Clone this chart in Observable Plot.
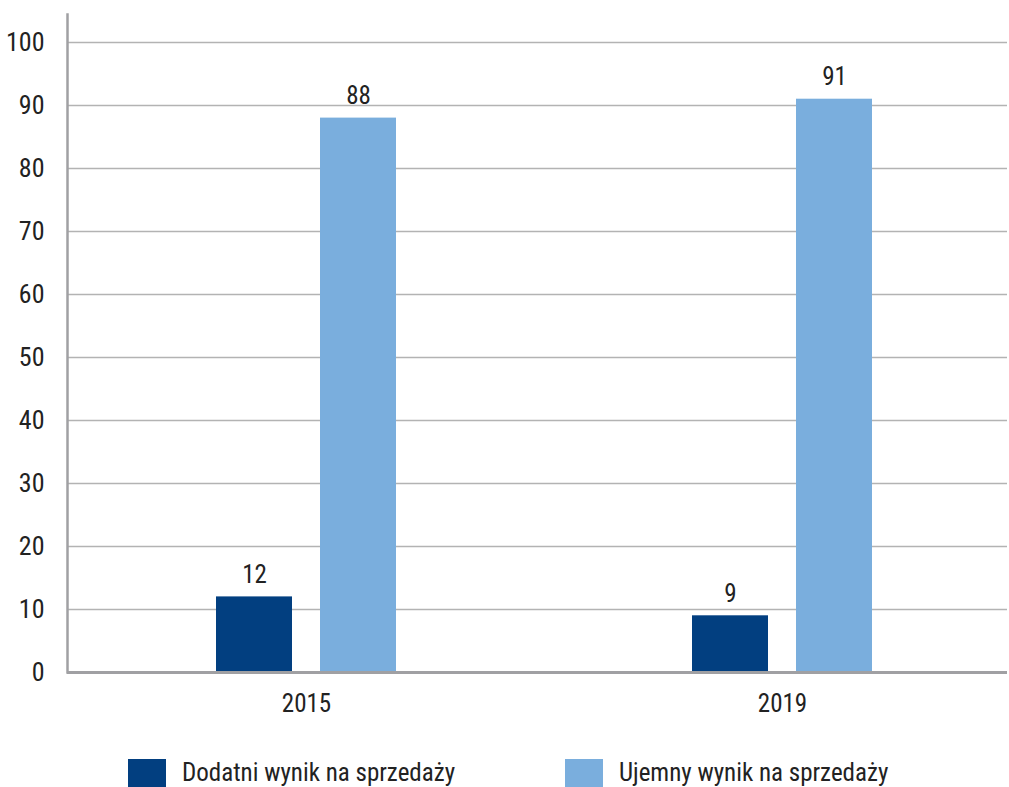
<!DOCTYPE html>
<html><head><meta charset="utf-8">
<script src="https://cdn.jsdelivr.net/npm/d3@7"></script>
<script src="https://cdn.jsdelivr.net/npm/@observablehq/plot@0.6"></script>
<style>
body{margin:0;background:#fff;font-family:Roboto,"DejaVu Sans Condensed",sans-serif;font-stretch:75%;}
svg text{font-stretch:75%;font-weight:400;}
#legend{position:relative;height:62px;}
.item{position:absolute;top:33px;display:flex;align-items:center;font-size:25px;font-weight:400;color:#222;}
.sw{width:38px;height:28px;margin-right:16px;}
</style></head><body>
<div id="chart"></div>
<div id="legend"></div>
<script>
const years = ["2015", "2019"];
const seriesNames = ["Dodatni wynik na sprzedaży", "Ujemny wynik na sprzedaży"];
const positive = [12, 9];
const negative = [88, 91];
const colors = ["#023f80", "#7aaedd"];
const yTicks = [0,10,20,30,40,50,60,70,80,90,100];

const data = years.flatMap((y,i)=>[
  {year:y, series:seriesNames[0], value:positive[i]},
  {year:y, series:seriesNames[1], value:negative[i]}
]);
const pos = data.filter(d=>d.series===seriesNames[0]);
const neg = data.filter(d=>d.series===seriesNames[1]);

const chart = Plot.plot({
  width: 1009, height: 725,
  marginLeft: 67, marginRight: 2, marginTop: 14, marginBottom: 53,
  style:{fontFamily:'Roboto,"DejaVu Sans Condensed",sans-serif', fontSize:"22px", color:"#222", background:"#fff"},
  x:{type:"band", domain:years, range:[68,1020], padding:0, label:null},
  y:{type:"linear", domain:[0,100], range:[672,42], label:null},
  marks:[
    Plot.ruleY(yTicks.filter(t=>t>0), {stroke:"#b3b3b3", strokeWidth:1.5}),
    Plot.barY(pos, {x:"year", y:"value", fill:colors[0], insetLeft:148, insetRight:252}),
    Plot.barY(neg, {x:"year", y:"value", fill:colors[1], insetLeft:252, insetRight:148}),
    Plot.text(pos, {x:"year", y:"value", text:d=>String(d.value), dx:-52, dy:-22, fontSize:25, fill:"#222"}),
    Plot.text(neg, {x:"year", y:"value", text:d=>String(d.value), dx:52, dy:-22, fontSize:25, fill:"#222"}),
    Plot.axisY(yTicks, {tickSize:0, tickPadding:0, dx:-23, fontSize:26, fill:"#222"}),
    Plot.axisX({tickSize:0, tickPadding:22, fontSize:25, fill:"#222"}),
    Plot.frame({anchor:"left", stroke:"#a0a0a3", strokeWidth:2.5}),
    Plot.ruleY([0], {stroke:"#a0a0a3", strokeWidth:3})
  ]
});
document.getElementById("chart").appendChild(chart);

const lg = document.getElementById("legend");
const lefts = [128, 565];
seriesNames.forEach((s,i)=>{
  const it = document.createElement("div");
  it.className="item"; it.style.left=lefts[i]+"px";
  it.innerHTML = `<div class="sw" style="background:${colors[i]}"></div><span>${s}</span>`;
  lg.appendChild(it);
});
</script>
</body></html>
